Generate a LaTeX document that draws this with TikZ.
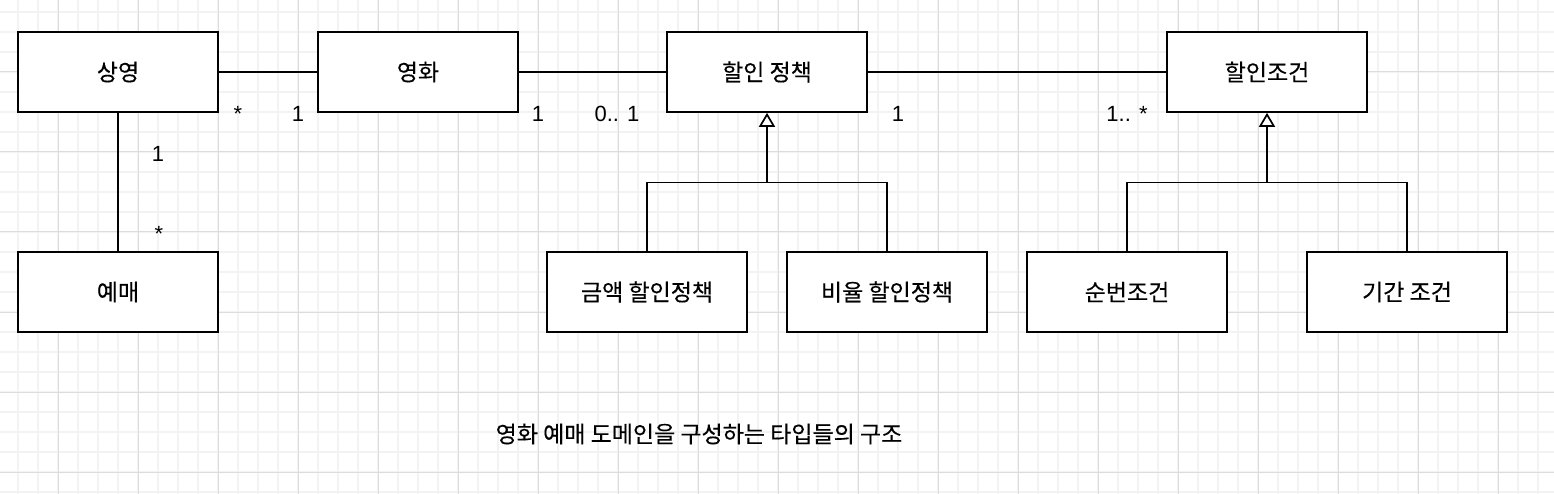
\documentclass[tikz,border=0pt]{standalone}
\usepackage{fontspec}
\setmainfont{Liberation Sans}
\newfontfamily\kr[FakeBold=0.3]{Noto Sans CJK KR}
\usetikzlibrary{arrows.meta}
\definecolor{gridminor}{HTML}{F3F3F3}
\definecolor{gridmajor}{HTML}{DCDCDC}
\begin{document}
\begin{tikzpicture}[x=1pt,y=-1pt,
  cls/.style={draw=black,line width=1.7pt,fill=white,minimum width=200pt,minimum height=80pt,inner sep=0pt,
    font=\kr\fontsize{23}{26}\selectfont},
  conn/.style={draw=black,line width=1.7pt},
  gen/.style={conn,-{Triangle[open,width=16pt,length=14pt,line width=1.7pt]}},
  mult/.style={anchor=base,inner sep=0pt,font=\fontsize{22}{26}\selectfont},
  captext/.style={inner sep=0pt,font=\kr\fontsize{23}{26}\selectfont}]
\useasboundingbox (0,0) rectangle (1554,494);
\fill[white] (0,0) rectangle (1554,494);
% grid
\foreach \gx in {18,38,...,1554} \draw[gridminor,line width=1.3pt] (\gx,0) -- (\gx,494);
\foreach \gy in {12,32,...,494} \draw[gridminor,line width=1.3pt] (0,\gy) -- (1554,\gy);
\foreach \gx in {58,138,...,1554} \draw[gridmajor,line width=1pt] (\gx,0) -- (\gx,494);
\foreach \gy in {72,152,...,494} \draw[gridmajor,line width=1pt] (0,\gy) -- (1554,\gy);
% classes
\node[cls] (screening) at (118,72) {상영};
\node[cls] (movie) at (418,72) {영화};
\node[cls] (policy) at (767,72) {할인 정책};
\node[cls] (cond) at (1267,72) {할인조건};
\node[cls] (reserv) at (118,292) {예매};
\node[cls] (amount) at (647,292) {금액 할인정책};
\node[cls] (percent) at (887,292) {비율 할인정책};
\node[cls] (seq) at (1127,292) {순번조건};
\node[cls] (period) at (1407,292) {기간 조건};
% associations
\draw[conn] (screening.east) -- (movie.west);
\draw[conn] (movie.east) -- (policy.west);
\draw[conn] (policy.east) -- (cond.west);
\draw[conn] (screening.south) -- (reserv.north);
% generalizations
\coordinate (j1) at (767,182.5);
\coordinate (j2) at (1267,182.5);
\draw[conn] (amount.north) |- (j1) -| (percent.north);
\draw[gen] (j1) -- (policy.south);
\draw[conn] (seq.north) |- (j2) -| (period.north);
\draw[gen] (j2) -- (cond.south);
% multiplicities
\node[mult] (m1) at (238,122) {*};
\node[mult] (m2) at (298,122) {1};
\node[mult] (m3) at (538,122) {1};
\node[mult] (m4) at (617,122) {0.. 1};
\node[mult] (m5) at (898,122) {1};
\node[mult] (m6) at (1127,122) {1.. *};
\node[mult] (m7) at (158,162) {1};
\node[mult] (m8) at (159,241) {*};
% caption
\node[captext] (caption) at (699,434) {영화 예매 도메인을 구성하는 타입들의 구조};
\end{tikzpicture}
\end{document}
